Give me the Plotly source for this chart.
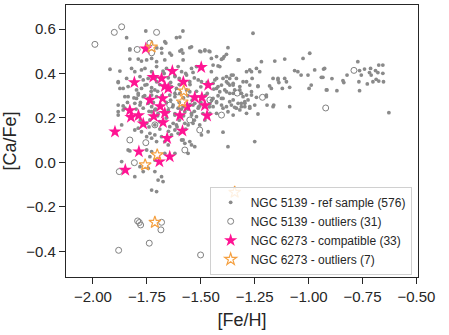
import plotly.graph_objects as go

# NGC 5139 reference sample ([Fe/H], [Ca/Fe])
ref_sample = [
    (-1.755, 0.591), (-1.597, 0.564), (-1.583, 0.591), (-1.662, 0.537), (-1.704, 0.515),
    (-1.829, 0.511), (-1.681, 0.492), (-1.644, 0.492), (-1.597, 0.501), (-1.583, 0.492),
    (-1.258, 0.581), (-1.374, 0.516), (-1.481, 0.502), (-1.462, 0.501), (-1.500, 0.498),
    (-1.381, 0.486), (-1.392, 0.476), (-1.404, 0.464), (-1.323, 0.461), (-1.219, 0.453),
    (-1.157, 0.456), (-1.111, 0.465), (-1.026, 0.468), (-0.995, 0.491), (-1.543, 0.520),
    (-0.772, 0.453), (-0.931, 0.420), (-0.764, 0.413), (-0.741, 0.420), (-0.713, 0.423),
    (-0.675, 0.438), (-0.656, 0.438), (-0.756, 0.393), (-0.718, 0.404), (-0.710, 0.393),
    (-0.690, 0.413), (-0.679, 0.404), (-0.656, 0.401), (-0.934, 0.383), (-0.892, 0.377),
    (-0.841, 0.368), (-0.837, 0.359), (-0.767, 0.363), (-0.728, 0.353), (-0.702, 0.363),
    (-0.687, 0.374), (-0.675, 0.366), (-0.653, 0.363), (-0.822, 0.393), (-0.918, 0.326),
    (-0.869, 0.323), (-0.764, 0.323), (-0.628, 0.224),
    (-1.420, 0.434), (-1.358, 0.393), (-1.335, 0.378), (-1.304, 0.363), (-1.288, 0.408),
    (-1.273, 0.416), (-1.242, 0.423), (-1.262, 0.378), (-1.235, 0.344), (-1.181, 0.344),
    (-1.142, 0.371), (-1.138, 0.359), (-1.111, 0.378), (-1.103, 0.363), (-1.122, 0.333),
    (-1.088, 0.338), (-1.065, 0.413), (-1.050, 0.408), (-1.035, 0.393), (-1.003, 0.393),
    (-0.998, 0.333), (-0.988, 0.348), (-0.972, 0.416), (-0.941, 0.383), (-0.926, 0.423),
    (-0.915, 0.326), (-1.196, 0.296), (-1.165, 0.251), (-1.088, 0.251), (-1.304, 0.296),
    (-1.265, 0.303), (-1.242, 0.293), (-1.319, 0.326), (-1.312, 0.311), (-1.366, 0.348),
    (-1.350, 0.356), (-1.381, 0.363), (-1.397, 0.378), (-1.435, 0.371), (-1.420, 0.341),
    (-1.381, 0.318), (-1.350, 0.311), (-1.404, 0.288), (-1.366, 0.273), (-1.312, 0.266),
    (-1.281, 0.281), (-1.296, 0.251), (-1.343, 0.248),
    (-1.528, 0.266), (-1.505, 0.254), (-1.458, 0.263), (-1.427, 0.269), (-1.404, 0.258),
    (-1.381, 0.251), (-1.358, 0.258), (-1.335, 0.244), (-1.312, 0.251), (-1.296, 0.266),
    (-1.273, 0.244), (-1.250, 0.258), (-1.193, 0.258), (-1.162, 0.258), (-1.543, 0.221),
    (-1.520, 0.206), (-1.481, 0.191), (-1.458, 0.221), (-1.427, 0.221), (-1.374, 0.228),
    (-1.350, 0.213), (-1.319, 0.236), (-1.288, 0.221), (-1.235, 0.218), (-1.536, 0.176),
    (-1.505, 0.169), (-1.497, 0.124), (-1.466, 0.138), (-1.397, 0.136), (-1.250, 0.094),
    (-1.374, 0.071), (-1.528, 0.071),
    (-1.844, 0.561), (-1.667, 0.543), (-1.613, 0.561), (-1.829, 0.506), (-1.682, 0.513),
    (-1.636, 0.483), (-1.589, 0.506), (-1.829, 0.465), (-1.790, 0.465), (-1.775, 0.456),
    (-1.751, 0.461), (-1.728, 0.468), (-1.705, 0.453), (-1.667, 0.461), (-1.921, 0.419),
    (-1.875, 0.411), (-1.821, 0.423), (-1.806, 0.408), (-1.775, 0.416), (-1.759, 0.423),
    (-1.728, 0.408), (-1.705, 0.431), (-1.675, 0.411), (-1.659, 0.423), (-1.605, 0.431),
    (-1.589, 0.408), (-1.883, 0.363), (-1.844, 0.378), (-1.782, 0.386), (-1.767, 0.371),
    (-1.744, 0.378), (-1.705, 0.363), (-1.651, 0.381), (-1.620, 0.386), (-1.600, 0.378),
    (-1.875, 0.333), (-1.837, 0.341), (-1.798, 0.326), (-1.775, 0.333), (-1.759, 0.348),
    (-1.728, 0.336), (-1.713, 0.326), (-1.636, 0.341), (-1.613, 0.333), (-1.852, 0.296),
    (-1.798, 0.288), (-1.790, 0.303), (-1.767, 0.296), (-1.744, 0.288), (-1.728, 0.303),
    (-1.705, 0.296), (-1.644, 0.303), (-1.620, 0.296), (-1.597, 0.311), (-1.883, 0.258),
    (-1.860, 0.236), (-1.806, 0.266), (-1.782, 0.258), (-1.767, 0.244), (-1.744, 0.266),
    (-1.728, 0.251), (-1.713, 0.236), (-1.651, 0.236), (-1.628, 0.258), (-1.605, 0.244),
    (-1.582, 0.251),
    (-1.551, 0.516), (-1.505, 0.501), (-1.481, 0.506), (-1.458, 0.498), (-1.582, 0.461),
    (-1.543, 0.423), (-1.520, 0.431), (-1.451, 0.468), (-1.427, 0.476), (-1.443, 0.438),
    (-1.397, 0.468), (-1.327, 0.461), (-1.566, 0.393), (-1.536, 0.405), (-1.412, 0.431),
    (-1.451, 0.408), (-1.381, 0.386), (-1.366, 0.378), (-1.350, 0.393), (-1.427, 0.378),
    (-1.551, 0.363), (-1.512, 0.371), (-1.497, 0.363), (-1.443, 0.356), (-1.404, 0.348),
    (-1.374, 0.356), (-1.350, 0.348), (-1.319, 0.341), (-1.288, 0.363), (-1.273, 0.348),
    (-1.265, 0.408), (-1.566, 0.326), (-1.551, 0.318), (-1.427, 0.333), (-1.412, 0.318),
    (-1.389, 0.326), (-1.366, 0.311), (-1.343, 0.326), (-1.312, 0.311), (-1.288, 0.303),
    (-1.265, 0.318), (-1.235, 0.341), (-1.196, 0.303), (-1.173, 0.333), (-1.443, 0.288),
    (-1.427, 0.273), (-1.397, 0.288), (-1.350, 0.281), (-1.327, 0.266), (-1.296, 0.273),
    (-1.273, 0.251), (-1.536, 0.258), (-1.512, 0.244), (-1.443, 0.251), (-1.397, 0.244),
    (-1.165, 0.378), (-1.142, 0.378), (-1.227, 0.408),
    (-1.883, 0.228), (-1.867, 0.169), (-1.806, 0.146), (-1.790, 0.154), (-1.775, 0.138),
    (-1.751, 0.116), (-1.736, 0.131), (-1.728, 0.109), (-1.713, 0.124), (-1.705, 0.094),
    (-1.682, 0.116), (-1.667, 0.094), (-1.651, 0.079), (-1.636, 0.124), (-1.620, 0.146),
    (-1.605, 0.131), (-1.589, 0.101), (-1.574, 0.086), (-1.551, 0.094), (-1.751, 0.176),
    (-1.736, 0.191), (-1.713, 0.169), (-1.690, 0.183), (-1.644, 0.161), (-1.628, 0.176),
    (-1.613, 0.169), (-1.574, 0.176), (-1.559, 0.169), (-1.728, 0.228), (-1.698, 0.221),
    (-1.651, 0.228), (-1.620, 0.213), (-1.574, 0.228), (-1.543, 0.213), (-1.837, 0.056),
    (-1.751, 0.056), (-1.728, 0.049), (-1.736, 0.026), (-1.713, 0.011), (-1.667, 0.041),
    (-1.620, 0.041), (-1.867, 0.004), (-1.782, -0.019), (-1.767, -0.041), (-1.744, -0.026),
    (-1.713, -0.041), (-1.806, -0.064), (-1.682, -0.064), (-1.698, -0.079), (-1.675, -0.086),
    (-1.728, -0.124), (-1.705, -0.131), (-1.883, 0.213), (-1.852, 0.244), (-1.829, 0.052),
    (-1.559, 0.041), (-1.543, 0.079), (-1.582, 0.101), (-1.883, 0.359), (-1.860, 0.333),
    (-1.837, 0.296), (-1.860, 0.254),
    (-1.70, 0.32), (-1.68, 0.30), (-1.66, 0.27), (-1.64, 0.28), (-1.62, 0.31),
    (-1.60, 0.27), (-1.58, 0.29), (-1.56, 0.30), (-1.54, 0.28), (-1.72, 0.27),
    (-1.74, 0.23), (-1.70, 0.21), (-1.66, 0.20), (-1.62, 0.22), (-1.60, 0.19),
    (-1.58, 0.21), (-1.56, 0.24), (-1.53, 0.23), (-1.50, 0.27), (-1.48, 0.30),
    (-1.52, 0.32), (-1.55, 0.35), (-1.60, 0.35), (-1.64, 0.36), (-1.69, 0.35),
    (-1.73, 0.32), (-1.76, 0.30), (-1.78, 0.27), (-1.80, 0.24), (-1.82, 0.20),
    (-1.78, 0.19), (-1.74, 0.16), (-1.69, 0.15), (-1.65, 0.14), (-1.61, 0.16),
    (-1.57, 0.15), (-1.53, 0.19), (-1.49, 0.22), (-1.46, 0.25), (-1.47, 0.31),
    (-1.50, 0.34), (-1.53, 0.38), (-1.57, 0.40), (-1.62, 0.39), (-1.67, 0.40),
    (-1.71, 0.38), (-1.75, 0.35), (-1.79, 0.31), (-1.81, 0.29), (-1.84, 0.27),
    (-1.63, 0.25), (-1.67, 0.23), (-1.71, 0.24), (-1.59, 0.24), (-1.55, 0.26),
    (-1.51, 0.25), (-1.45, 0.28), (-1.44, 0.33), (-1.47, 0.36), (-1.42, 0.30),
]

# NGC 5139 outliers
ref_outliers = [
    (-1.991, 0.531), (-1.901, 0.585), (-1.867, 0.610), (-1.705, 0.585), (-1.795, 0.508),
    (-1.736, 0.537), (-1.728, 0.493), (-1.214, 0.293), (-1.331, 0.312), (-0.790, 0.414),
    (-0.921, 0.245), (-1.404, 0.213), (-1.755, 0.089), (-1.808, -0.001), (-1.878, -0.041),
    (-1.793, -0.263), (-1.785, -0.270), (-1.779, -0.281), (-1.682, -0.269), (-1.685, -0.303),
    (-1.739, -0.363), (-1.881, -0.395), (-1.501, -0.416), (-1.644, 0.258), (-1.551, 0.191),
    (-1.713, 0.169), (-1.458, 0.281), (-1.606, 0.317), (-1.829, 0.101), (-1.505, 0.146),
    (-1.574, 0.056),
]

# NGC 6273 compatible stars
ngc6273_ok = [
    (-1.755, 0.512), (-1.632, 0.411), (-1.808, 0.360), (-1.721, 0.384), (-1.682, 0.378),
    (-1.581, 0.362), (-1.667, 0.342), (-1.651, 0.333), (-1.677, 0.288), (-1.528, 0.292),
    (-1.495, 0.292), (-1.688, 0.252), (-1.498, 0.428), (-1.466, 0.348), (-1.481, 0.256),
    (-1.563, 0.251), (-1.829, 0.234), (-1.824, 0.204), (-1.789, 0.211), (-1.718, 0.207),
    (-1.667, 0.222), (-1.675, 0.180), (-1.767, 0.174), (-1.898, 0.138), (-1.597, 0.211),
    (-1.585, 0.142), (-1.656, 0.109), (-1.787, 0.049), (-1.692, 0.004), (-1.644, 0.026),
    (-1.850, -0.034), (-1.471, 0.210), (-1.736, 0.281),
]

# NGC 6273 outliers
ngc6273_out = [
    (-1.728, 0.519), (-1.579, 0.321), (-1.586, 0.272), (-1.702, 0.034), (-1.758, -0.011),
    (-1.343, -0.134), (-1.713, -0.269),
]

x_ticks = [-2.00, -1.75, -1.50, -1.25, -1.00, -0.75, -0.50]
y_ticks = [-0.4, -0.2, 0.0, 0.2, 0.4, 0.6]

INK = "#262626"

fig = go.Figure()
fig.add_trace(go.Scatter(
    x=[p[0] for p in ref_sample], y=[p[1] for p in ref_sample],
    mode="markers", name="NGC 5139 - ref sample (576)",
    marker=dict(color="#8a8a8a", size=3.8, line=dict(width=0))
))
fig.add_trace(go.Scatter(
    x=[p[0] for p in ref_outliers], y=[p[1] for p in ref_outliers],
    mode="markers", name="NGC 5139 - outliers (31)",
    marker=dict(symbol="circle-open", color="grey", size=6, line=dict(width=1))
))
fig.add_trace(go.Scatter(
    x=[p[0] for p in ngc6273_ok], y=[p[1] for p in ngc6273_ok],
    mode="markers", name="NGC 6273 - compatible (33)",
    marker=dict(symbol="star", color="#FF1493", size=10, line=dict(width=0))
))
fig.add_trace(go.Scatter(
    x=[p[0] for p in ngc6273_out], y=[p[1] for p in ngc6273_out],
    mode="markers", name="NGC 6273 - outliers (7)",
    marker=dict(symbol="star-open", color="#F5A040", size=9, line=dict(width=1.2))
))

axis_style = dict(
    showline=True, linecolor=INK, linewidth=1.25, mirror=True,
    ticks="outside", ticklen=6, tickwidth=1.25, tickcolor=INK,
    showgrid=False, zeroline=False, automargin=False,
    tickfont=dict(size=15, color=INK),
)

fig.update_xaxes(
    range=[-2.125, -0.493], tickvals=x_ticks, tickformat=".2f",
    title=dict(text="[Fe/H]", font=dict(size=18, color=INK), standoff=9),
    **axis_style
)
fig.update_yaxes(
    range=[-0.515, 0.708], tickvals=y_ticks, tickformat=".1f",
    title=dict(text="[Ca/Fe]", font=dict(size=18, color=INK), standoff=8),
    **axis_style
)

fig.update_layout(
    width=449, height=335,
    margin=dict(l=66, r=31, t=5, b=58),
    paper_bgcolor="white", plot_bgcolor="white",
    font=dict(family="Liberation Sans, Arial, sans-serif", color=INK),
    legend=dict(
        x=0.982, y=0.008, xanchor="right", yanchor="bottom",
        bgcolor="rgba(255,255,255,0.85)", bordercolor="#d0d0d0", borderwidth=1,
        font=dict(size=12, color=INK), itemsizing="trace", itemwidth=30,
    ),
    showlegend=True,
)

# drop the default page margin so the figure sits at the window corner
fig.write_html(
    "out.html",
    config={"displayModeBar": False},
    post_script="document.body.style.margin='0';",
)
